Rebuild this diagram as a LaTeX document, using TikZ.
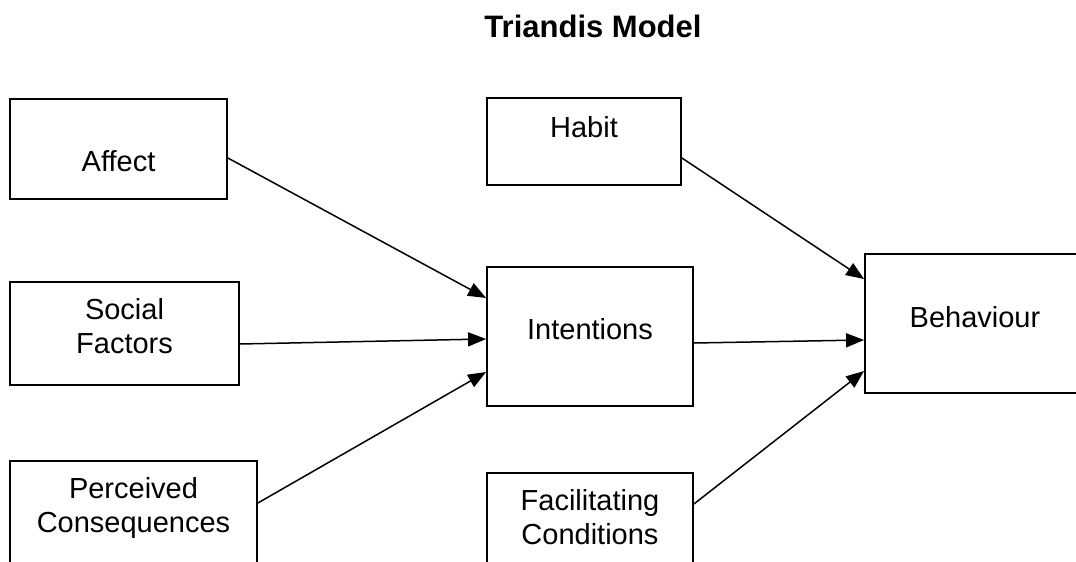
\documentclass[tikz,border=0pt]{standalone}
\usepackage{fontspec}
\setmainfont{Liberation Sans}
\usetikzlibrary{arrows.meta}
\tikzset{
  box/.style={draw=black, line width=1.8pt, fill=none, inner sep=0pt, rectangle},
  lbl/.style={font=\fontsize{29}{34}\selectfont, align=center, anchor=base, inner sep=0pt},
  conn/.style={line width=1.5pt, -{Triangle[length=18pt,width=14pt]}}
}
\begin{document}
\begin{tikzpicture}[x=1pt,y=-1pt]
\useasboundingbox (0,0) rectangle (1076,562);
\clip (0,0) rectangle (1076,562);
% title
\node[font=\fontsize{31}{36}\selectfont\bfseries, anchor=base, inner sep=0pt] (title) at (593,37) {Triandis Model};
% boxes
\node[box, minimum width=217pt, minimum height=100pt] (affect) at (118.5,149) {};
\node[box, minimum width=229pt, minimum height=103pt] (social) at (124.5,333.5) {};
\node[box, minimum width=247pt, minimum height=138pt] (perceived) at (133.5,530) {};
\node[box, minimum width=194pt, minimum height=87pt] (habit) at (584,141.5) {};
\node[box, minimum width=206pt, minimum height=139pt] (intentions) at (590,336.5) {};
\node[box, minimum width=206pt, minimum height=137pt] (facil) at (590,541.5) {};
\node[box, minimum width=225pt, minimum height=139pt] (behaviour) at (977.5,323.5) {};
% labels (base = last line)
\node[lbl] (taffect) at (118.5,171) {Affect};
\node[lbl] (tsocial) at (124.5,353) {Social\\Factors};
\node[lbl] (tperceived) at (133.5,532) {Perceived\\Consequences};
\node[lbl] (thabit) at (584,137) {Habit};
\node[lbl] (tintentions) at (590,339) {Intentions};
\node[lbl] (tfacil) at (590,544) {Facilitating\\Conditions};
\node[lbl] (tbehaviour) at (975,327) {Behaviour};
% connectors
\draw[conn] ([yshift=-9pt]affect.east) -- ([yshift=38.5pt]intentions.west);
\draw[conn] ([yshift=-10.5pt]social.east) -- ([yshift=-2.5pt]intentions.west);
\draw[conn] ([yshift=27pt]perceived.east) -- ([yshift=-35.5pt]intentions.west);
\draw[conn] ([yshift=-16.5pt]habit.east) -- ([yshift=44.5pt]behaviour.west);
\draw[conn] ([yshift=-6.5pt]intentions.east) -- ([yshift=-16.5pt]behaviour.west);
\draw[conn] ([yshift=37.5pt]facil.east) -- ([yshift=-47.5pt]behaviour.west);
\end{tikzpicture}
\end{document}
